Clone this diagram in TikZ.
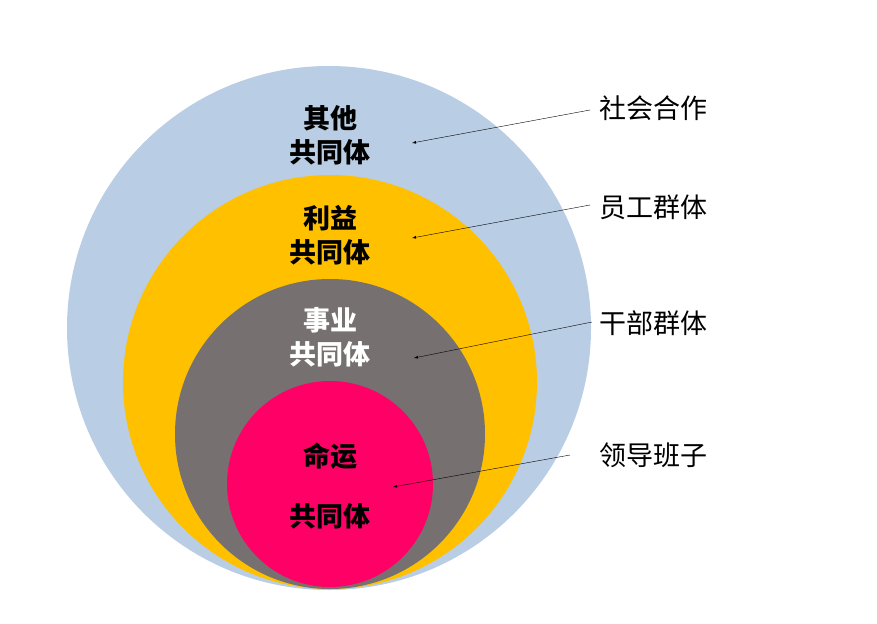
\documentclass[tikz,border=0pt]{standalone}
\usepackage{fontspec}
\setmainfont{Noto Sans CJK SC}
\begin{document}
\begin{tikzpicture}[x=1pt,y=-1pt,
  ring/.style={circle,draw=none,inner sep=0pt},
  lab/.style={font=\fontsize{27}{34}\selectfont\bfseries,align=center},
  side/.style={font=\fontsize{27}{34}\selectfont,anchor=west},
  arr/.style={-latex,thin}]
\useasboundingbox (0,0) rectangle (877,623);
\fill[fill={rgb,255:red,185;green,205;blue,228}] (329,328) circle (262);
\fill[fill={rgb,255:red,255;green,192;blue,0}] (330,382) circle (207);
\fill[fill={rgb,255:red,118;green,112;blue,112}] (330,434) circle (155);
\fill[fill={rgb,255:red,255;green,0;blue,102}] (330,484) circle (103);
\node[lab] (t1) at (330,135) {其他\\共同体};
\node[lab] (t2) at (330,235) {利益\\共同体};
\node[lab,text=white] (t3) at (330,337) {事业\\共同体};
\node[lab] (t4a) at (330,456) {命运};
\node[lab] (t4b) at (330,516) {共同体};
\node[side] (s1) at (596,108) {社会合作};
\node[side] (s2) at (596,207) {员工群体};
\node[side] (s3) at (596,323) {干部群体};
\node[side] (s4) at (596,455) {领导班子};
\coordinate (e1) at (412,143);
\coordinate (e2) at (412,238);
\coordinate (e3) at (414,358);
\coordinate (e4) at (393,487);
\coordinate (b1) at (590,110);
\coordinate (b2) at (590,205);
\coordinate (b3) at (592,322);
\coordinate (b4) at (570,455);
\draw[arr] (b1) -- (e1);
\draw[arr] (b2) -- (e2);
\draw[arr] (b3) -- (e3);
\draw[arr] (b4) -- (e4);
\end{tikzpicture}
\end{document}
